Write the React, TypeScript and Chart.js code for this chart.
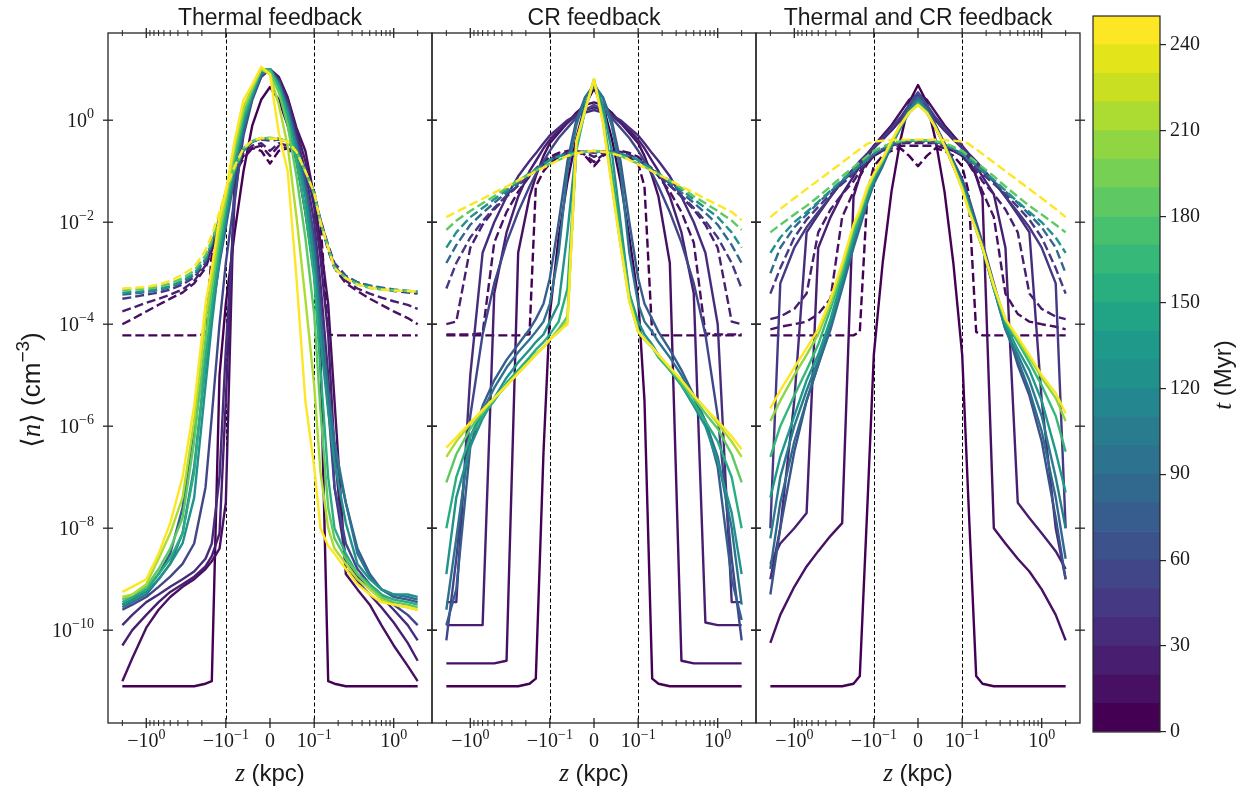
import React, { useEffect, useRef } from 'react';
import { Chart, registerables, LinearScale } from 'chart.js';

Chart.register(...registerables);

// ---------------- data (log10 of <n> in cm^-3) ----------------
const Z_KPC = [-2, -1.5, -1, -0.7, -0.5, -0.35, -0.25, -0.18, -0.15, -0.12, -0.1, -0.08, -0.06, -0.04, -0.02, 0, 0.02, 0.04, 0.06, 0.08, 0.1, 0.12, 0.15, 0.18, 0.25, 0.35, 0.5, 0.7, 1, 1.5, 2];

const PANEL_TITLES = ['Thermal feedback', 'CR feedback', 'Thermal and CR feedback'];

// Thermal feedback
const THERMAL_SOLID_T = [0, 10, 20, 30, 50, 70, 90, 120, 150, 180, 210, 240];
const THERMAL_SOLID_LOGN = [
  [-11.1, -11.1, -11.1, -11.1, -11.1, -11.1, -11.1, -11.05, -11.0, -5.0, -3.6, -2.2, -1.0, -0.1, 0.4, 0.65, 0.4, -0.1, -0.8, -1.8, -3.0, -4.6, -11.0, -11.05, -11.1, -11.1, -11.1, -11.1, -11.1, -11.1, -11.1],
  [-11.0, -10.55, -9.95, -9.6, -9.35, -9.15, -9.0, -8.8, -8.65, -8.4, -7.5, -1.0, 0.15, 0.6, 0.9, 1.0, 0.85, 0.45, -0.15, -0.6, -1.5, -2.4, -3.6, -5.5, -8.9, -9.2, -9.5, -9.9, -10.3, -10.7, -11.0],
  [-10.3, -10.0, -9.7, -9.45, -9.25, -9.1, -8.95, -8.75, -8.55, -8.1, -5.5, -1.3, 0.0, 0.55, 0.9, 1.0, 0.8, 0.4, -0.2, -0.8, -1.7, -2.7, -4.2, -6.5, -8.8, -9.05, -9.3, -9.55, -9.85, -10.25, -10.6],
  [-9.9, -9.7, -9.45, -9.3, -9.15, -9.0, -8.85, -8.6, -8.3, -7.0, -4.5, -1.6, -0.2, 0.45, 0.85, 1.0, 0.8, 0.35, -0.3, -1.0, -2.0, -3.2, -5.0, -7.2, -8.6, -8.95, -9.15, -9.35, -9.6, -9.9, -10.2],
  [-9.6, -9.5, -9.35, -9.15, -8.95, -8.7, -8.3, -7.2, -5.8, -4.0, -2.8, -1.5, -0.3, 0.4, 0.85, 1.0, 0.75, 0.3, -0.4, -1.2, -2.3, -3.6, -5.6, -7.2, -8.3, -8.8, -9.1, -9.3, -9.5, -9.7, -9.9],
  [-9.5, -9.4, -9.2, -8.9, -8.5, -7.6, -6.0, -4.6, -3.8, -2.8, -2.1, -1.1, -0.2, 0.45, 0.9, 1.0, 0.75, 0.25, -0.45, -1.3, -2.5, -3.9, -5.6, -6.5, -7.5, -8.4, -8.9, -9.2, -9.35, -9.4, -9.45],
  [-9.55, -9.45, -9.3, -9.0, -8.7, -8.1, -6.8, -4.8, -3.8, -2.7, -2.0, -1.0, -0.15, 0.45, 0.9, 1.0, 0.7, 0.2, -0.5, -1.4, -2.6, -3.9, -5.3, -6.3, -7.5, -8.5, -8.95, -9.2, -9.3, -9.35, -9.4],
  [-9.5, -9.4, -9.25, -9.0, -8.7, -8.3, -7.4, -5.2, -4.0, -2.7, -1.9, -0.9, -0.05, 0.5, 0.95, 1.0, 0.7, 0.15, -0.6, -1.5, -2.8, -4.3, -5.7, -6.7, -7.9, -8.7, -9.0, -9.2, -9.3, -9.3, -9.35],
  [-9.45, -9.35, -9.2, -8.9, -8.6, -8.1, -6.9, -4.7, -3.6, -2.5, -1.75, -0.8, 0.05, 0.55, 1.0, 1.0, 0.65, 0.05, -0.8, -1.8, -3.1, -4.9, -7.0, -8.0, -8.5, -8.9, -9.1, -9.3, -9.4, -9.45, -9.5],
  [-9.4, -9.3, -9.15, -8.8, -8.4, -7.8, -6.3, -4.3, -3.3, -2.3, -1.6, -0.65, 0.15, 0.6, 1.0, 0.95, 0.55, -0.1, -1.1, -2.3, -3.8, -5.7, -7.6, -8.2, -8.6, -8.9, -9.15, -9.35, -9.45, -9.5, -9.55],
  [-9.35, -9.3, -9.1, -8.6, -8.1, -7.4, -5.9, -3.9, -3.1, -2.1, -1.5, -0.5, 0.25, 0.65, 1.0, 0.9, 0.3, -0.5, -1.9, -3.5, -5.2, -6.9, -8.0, -8.4, -8.7, -9.0, -9.2, -9.4, -9.5, -9.55, -9.6],
  [-9.25, -9.15, -9.0, -8.5, -7.9, -7.0, -5.6, -3.6, -2.9, -1.9, -1.4, -0.4, 0.4, 0.7, 1.05, 0.9, -0.25, -1.0, -3.1, -5.5, -6.8, -8.0, -8.35, -8.5, -8.8, -9.1, -9.3, -9.45, -9.5, -9.55, -9.6],
];
const THERMAL_DASHED_T = [0, 10, 20, 40, 80, 130, 180, 240];
const THERMAL_DASHED_LOGN = [
  [-4.22, -4.22, -4.22, -4.22, -4.22, -4.22, -4.22, -4.2, -2.6, -1.9, -1.4, -1.0, -0.7, -0.55, -0.6, -0.85, -0.6, -0.55, -0.7, -1.0, -1.4, -2.0, -4.2, -4.22, -4.22, -4.22, -4.22, -4.22, -4.22, -4.22, -4.22],
  [-4.0, -3.9, -3.75, -3.62, -3.5, -3.38, -3.2, -2.9, -2.55, -2.0, -1.5, -1.05, -0.75, -0.55, -0.5, -0.7, -0.5, -0.55, -0.75, -1.05, -1.5, -2.0, -2.55, -2.9, -3.2, -3.35, -3.5, -3.62, -3.75, -3.88, -4.0],
  [-3.75, -3.68, -3.58, -3.5, -3.42, -3.32, -3.15, -2.85, -2.5, -1.95, -1.5, -1.0, -0.65, -0.5, -0.45, -0.6, -0.45, -0.5, -0.65, -1.0, -1.5, -1.95, -2.5, -2.85, -3.15, -3.3, -3.4, -3.48, -3.55, -3.62, -3.7],
  [-3.5, -3.47, -3.42, -3.38, -3.32, -3.22, -3.08, -2.8, -2.45, -1.9, -1.45, -0.95, -0.6, -0.42, -0.38, -0.4, -0.38, -0.42, -0.6, -1.0, -1.45, -1.95, -2.45, -2.8, -3.05, -3.18, -3.25, -3.3, -3.35, -3.38, -3.4],
  [-3.42, -3.4, -3.37, -3.33, -3.27, -3.18, -3.03, -2.75, -2.42, -1.95, -1.45, -0.98, -0.58, -0.42, -0.36, -0.36, -0.37, -0.42, -0.6, -1.0, -1.45, -2.0, -2.5, -2.88, -3.08, -3.18, -3.24, -3.28, -3.32, -3.35, -3.37],
  [-3.38, -3.37, -3.35, -3.31, -3.25, -3.15, -3.0, -2.72, -2.4, -1.95, -1.45, -0.98, -0.58, -0.42, -0.36, -0.35, -0.36, -0.42, -0.6, -1.0, -1.42, -2.0, -2.5, -2.88, -3.08, -3.2, -3.27, -3.31, -3.33, -3.35, -3.36],
  [-3.33, -3.32, -3.3, -3.27, -3.2, -3.1, -2.95, -2.65, -2.35, -1.9, -1.42, -0.95, -0.55, -0.4, -0.35, -0.35, -0.36, -0.42, -0.62, -1.0, -1.45, -2.0, -2.5, -2.9, -3.1, -3.22, -3.29, -3.32, -3.34, -3.35, -3.36],
  [-3.3, -3.29, -3.27, -3.22, -3.15, -3.03, -2.88, -2.55, -2.25, -1.8, -1.37, -0.9, -0.55, -0.4, -0.35, -0.36, -0.37, -0.42, -0.62, -1.0, -1.42, -2.0, -2.5, -2.9, -3.1, -3.22, -3.28, -3.32, -3.34, -3.35, -3.36],
];

// CR feedback
const CR_SOLID_T = [0, 10, 20, 30, 50, 70, 90, 120, 150, 180, 210, 240];
const CR_SOLID_LOGN = [
  [-11.1, -11.1, -11.1, -11.1, -11.1, -11.1, -11.1, -11.05, -10.95, -6.5, -3.8, -2.3, -1.2, -0.35, 0.3, 0.62, 0.3, -0.35, -1.2, -2.3, -3.5, -5.5, -10.95, -11.05, -11.1, -11.1, -11.1, -11.1, -11.1, -11.1, -11.1],
  [-10.65, -10.65, -10.65, -10.65, -10.65, -10.6, -2.6, -1.5, -1.1, -0.7, -0.45, -0.25, -0.05, 0.15, 0.3, 0.35, 0.3, 0.15, -0.05, -0.25, -0.45, -0.7, -1.1, -1.5, -2.8, -10.6, -10.65, -10.65, -10.65, -10.65, -10.65],
  [-9.9, -9.9, -9.9, -9.9, -3.4, -2.2, -1.5, -1.0, -0.8, -0.55, -0.38, -0.2, -0.05, 0.1, 0.2, 0.25, 0.2, 0.1, -0.05, -0.2, -0.38, -0.55, -0.8, -1.0, -1.5, -2.2, -3.4, -9.85, -9.9, -9.9, -9.9],
  [-9.45, -9.45, -5.0, -2.6, -2.0, -1.5, -1.1, -0.8, -0.65, -0.45, -0.3, -0.15, 0.0, 0.1, 0.15, 0.2, 0.15, 0.1, 0.0, -0.15, -0.3, -0.45, -0.65, -0.8, -1.1, -1.5, -2.0, -2.6, -4.0, -9.45, -9.45],
  [-10.2, -8.6, -5.8, -4.2, -3.2, -2.4, -1.8, -1.3, -1.05, -0.8, -0.6, -0.35, -0.15, 0.05, 0.2, 0.3, 0.2, 0.05, -0.15, -0.35, -0.6, -0.8, -1.05, -1.3, -1.8, -2.4, -3.2, -4.2, -5.8, -8.6, -10.2],
  [-9.9, -9.2, -6.4, -5.6, -5.1, -4.7, -4.4, -4.1, -3.9, -3.6, -3.1, -2.0, -0.8, 0.0, 0.45, 0.65, 0.45, 0.0, -0.8, -2.0, -3.1, -3.6, -3.9, -4.15, -4.5, -4.9, -5.4, -5.9, -6.8, -9.0, -9.8],
  [-9.6, -8.2, -6.2, -5.7, -5.25, -4.85, -4.55, -4.3, -4.15, -3.95, -3.6, -2.6, -1.0, -0.1, 0.45, 0.7, 0.45, -0.1, -1.0, -2.6, -3.6, -3.95, -4.15, -4.35, -4.65, -5.0, -5.45, -5.9, -6.6, -8.0, -9.5],
  [-8.9, -7.4, -6.4, -5.85, -5.45, -5.05, -4.75, -4.5, -4.35, -4.2, -3.95, -3.6, -2.2, -0.5, 0.3, 0.75, 0.3, -0.6, -2.0, -3.4, -3.95, -4.2, -4.4, -4.6, -4.9, -5.2, -5.6, -6.0, -6.7, -7.7, -8.9],
  [-8.0, -7.0, -6.2, -5.8, -5.5, -5.15, -4.9, -4.65, -4.5, -4.35, -4.2, -3.95, -3.3, -0.6, 0.2, 0.78, 0.1, -1.0, -2.2, -3.4, -4.1, -4.3, -4.45, -4.65, -4.9, -5.2, -5.55, -5.9, -6.3, -7.0, -8.0],
  [-7.1, -6.55, -6.05, -5.72, -5.47, -5.2, -4.95, -4.72, -4.58, -4.45, -4.3, -4.1, -3.85, -0.5, 0.2, 0.8, 0.05, -1.2, -2.4, -3.5, -4.15, -4.3, -4.45, -4.62, -4.88, -5.15, -5.45, -5.75, -6.05, -6.55, -7.1],
  [-6.6, -6.3, -5.95, -5.7, -5.45, -5.2, -4.96, -4.73, -4.6, -4.45, -4.3, -4.15, -3.95, -0.45, 0.2, 0.8, -0.02, -1.25, -2.45, -3.55, -4.15, -4.3, -4.45, -4.6, -4.85, -5.1, -5.4, -5.65, -5.95, -6.3, -6.6],
  [-6.42, -6.22, -5.93, -5.68, -5.45, -5.2, -4.96, -4.73, -4.6, -4.45, -4.3, -4.14, -4.0, -0.4, 0.2, 0.8, -0.04, -1.27, -2.45, -3.55, -4.15, -4.3, -4.45, -4.6, -4.85, -5.1, -5.4, -5.65, -5.9, -6.2, -6.45],
];
const CR_DASHED_T = [0, 10, 20, 40, 80, 120, 180, 240];
const CR_DASHED_LOGN = [
  [-4.22, -4.22, -4.22, -4.22, -4.22, -4.22, -4.22, -4.2, -1.3, -1.0, -0.85, -0.72, -0.62, -0.6, -0.7, -0.9, -0.7, -0.6, -0.62, -0.72, -0.85, -1.3, -4.2, -4.22, -4.22, -4.22, -4.22, -4.22, -4.22, -4.22, -4.22],
  [-4.2, -4.2, -4.2, -4.18, -2.4, -1.8, -1.4, -1.1, -0.95, -0.82, -0.72, -0.64, -0.6, -0.6, -0.68, -0.82, -0.68, -0.6, -0.6, -0.64, -0.72, -0.82, -0.95, -1.1, -1.4, -1.8, -2.4, -4.18, -4.2, -4.2, -4.2],
  [-4.0, -3.95, -2.5, -2.05, -1.75, -1.5, -1.28, -1.08, -0.97, -0.85, -0.76, -0.68, -0.63, -0.61, -0.63, -0.72, -0.63, -0.61, -0.63, -0.68, -0.76, -0.85, -0.97, -1.08, -1.28, -1.5, -1.75, -2.05, -2.5, -3.95, -4.0],
  [-3.3, -2.8, -2.3, -1.98, -1.72, -1.48, -1.28, -1.08, -0.98, -0.87, -0.78, -0.7, -0.65, -0.62, -0.62, -0.64, -0.62, -0.62, -0.65, -0.7, -0.78, -0.87, -0.98, -1.08, -1.28, -1.48, -1.72, -1.98, -2.3, -2.8, -3.3],
  [-2.8, -2.45, -2.05, -1.82, -1.62, -1.42, -1.24, -1.06, -0.97, -0.87, -0.78, -0.71, -0.66, -0.63, -0.62, -0.62, -0.62, -0.63, -0.66, -0.71, -0.78, -0.87, -0.97, -1.06, -1.24, -1.42, -1.62, -1.82, -2.05, -2.45, -2.8],
  [-2.5, -2.2, -1.9, -1.72, -1.55, -1.37, -1.2, -1.04, -0.96, -0.86, -0.78, -0.71, -0.66, -0.63, -0.62, -0.62, -0.62, -0.63, -0.66, -0.71, -0.78, -0.86, -0.96, -1.04, -1.2, -1.37, -1.55, -1.72, -1.9, -2.2, -2.5],
  [-2.15, -1.97, -1.78, -1.63, -1.49, -1.33, -1.18, -1.06, -0.99, -0.91, -0.85, -0.78, -0.7, -0.65, -0.62, -0.6, -0.62, -0.65, -0.7, -0.78, -0.85, -0.91, -0.99, -1.06, -1.18, -1.33, -1.49, -1.63, -1.78, -1.97, -2.15],
  [-1.9, -1.8, -1.66, -1.54, -1.42, -1.3, -1.18, -1.07, -1.0, -0.93, -0.87, -0.78, -0.7, -0.65, -0.62, -0.6, -0.62, -0.65, -0.7, -0.78, -0.87, -0.93, -1.0, -1.07, -1.18, -1.3, -1.42, -1.54, -1.66, -1.8, -1.96],
];

// Thermal and CR feedback
const BOTH_SOLID_T = [0, 10, 20, 30, 40, 60, 80, 100, 130, 160, 200, 240];
const BOTH_SOLID_LOGN = [
  [-11.1, -11.1, -11.1, -11.1, -11.1, -11.1, -11.1, -11.05, -10.9, -7.5, -4.6, -2.8, -1.4, -0.4, 0.35, 0.69, 0.35, -0.4, -1.4, -2.8, -4.6, -7.5, -10.9, -11.05, -11.1, -11.1, -11.1, -11.1, -11.1, -11.1, -11.1],
  [-10.25, -9.7, -9.15, -8.75, -8.45, -8.15, -7.9, -1.5, -1.1, -0.75, -0.5, -0.3, -0.1, 0.15, 0.4, 0.52, 0.4, 0.15, -0.1, -0.3, -0.5, -0.75, -1.1, -1.5, -8.0, -8.3, -8.6, -8.85, -9.2, -9.7, -10.2],
  [-8.7, -8.3, -8.0, -7.7, -2.5, -1.9, -1.45, -1.1, -0.9, -0.7, -0.55, -0.38, -0.2, 0.0, 0.25, 0.4, 0.25, 0.0, -0.2, -0.38, -0.55, -0.7, -0.9, -1.1, -1.45, -2.5, -7.5, -7.8, -8.1, -8.45, -8.8],
  [-9.0, -8.0, -5.5, -2.2, -1.85, -1.5, -1.2, -0.95, -0.8, -0.65, -0.5, -0.35, -0.2, 0.0, 0.25, 0.4, 0.25, 0.0, -0.2, -0.35, -0.5, -0.65, -0.8, -0.95, -1.2, -1.5, -1.85, -2.2, -5.5, -8.0, -9.0],
  [-8.0, -3.2, -2.5, -2.1, -1.8, -1.5, -1.2, -1.0, -0.85, -0.7, -0.55, -0.35, -0.15, 0.05, 0.3, 0.5, 0.3, 0.05, -0.15, -0.35, -0.55, -0.7, -0.85, -1.0, -1.2, -1.5, -1.8, -2.1, -2.5, -3.2, -8.0],
  [-9.3, -8.0, -6.5, -5.5, -4.8, -4.0, -3.2, -2.4, -2.0, -1.5, -1.15, -0.8, -0.45, -0.1, 0.3, 0.55, 0.3, -0.1, -0.45, -0.8, -1.15, -1.5, -2.0, -2.4, -3.2, -4.0, -4.8, -5.4, -6.3, -7.8, -9.0],
  [-8.8, -7.5, -6.3, -5.5, -4.8, -4.1, -3.3, -2.5, -2.1, -1.6, -1.25, -0.9, -0.5, -0.15, 0.2, 0.45, 0.2, -0.15, -0.5, -0.9, -1.25, -1.6, -2.1, -2.5, -3.3, -4.1, -4.7, -5.3, -6.1, -7.4, -8.6],
  [-8.2, -7.0, -6.0, -5.3, -4.7, -4.0, -3.2, -2.4, -2.0, -1.55, -1.2, -0.85, -0.5, -0.15, 0.2, 0.4, 0.2, -0.15, -0.5, -0.85, -1.25, -1.6, -2.1, -2.5, -3.3, -4.1, -4.6, -5.1, -5.8, -7.0, -8.0],
  [-7.4, -6.6, -5.8, -5.1, -4.6, -3.9, -3.1, -2.3, -1.95, -1.5, -1.15, -0.8, -0.45, -0.15, 0.15, 0.35, 0.15, -0.15, -0.5, -0.85, -1.3, -1.65, -2.15, -2.5, -3.3, -4.0, -4.5, -4.9, -5.5, -6.5, -7.3],
  [-6.6, -6.0, -5.4, -4.9, -4.4, -3.7, -3.0, -2.2, -1.85, -1.4, -1.1, -0.8, -0.45, -0.12, 0.15, 0.33, 0.15, -0.15, -0.5, -0.9, -1.3, -1.7, -2.15, -2.5, -3.3, -3.95, -4.35, -4.75, -5.2, -5.8, -6.5],
  [-5.9, -5.5, -5.0, -4.6, -4.2, -3.6, -2.9, -2.1, -1.8, -1.35, -1.08, -0.78, -0.42, -0.1, 0.15, 0.3, 0.15, -0.15, -0.5, -0.9, -1.35, -1.75, -2.15, -2.5, -3.25, -3.9, -4.3, -4.65, -5.05, -5.45, -5.9],
  [-5.65, -5.3, -4.85, -4.47, -4.1, -3.5, -2.8, -2.05, -1.75, -1.3, -1.05, -0.75, -0.4, -0.1, 0.15, 0.3, 0.15, -0.15, -0.5, -0.9, -1.35, -1.75, -2.15, -2.5, -3.25, -3.9, -4.25, -4.6, -5.0, -5.35, -5.75],
];
const BOTH_DASHED_T = [0, 10, 20, 40, 80, 120, 180, 240];
const BOTH_DASHED_LOGN = [
  [-4.22, -4.22, -4.22, -4.22, -4.22, -4.22, -4.22, -4.22, -4.15, -1.4, -0.9, -0.7, -0.6, -0.55, -0.7, -0.9, -0.7, -0.55, -0.6, -0.7, -0.9, -1.4, -4.15, -4.22, -4.22, -4.22, -4.22, -4.22, -4.22, -4.22, -4.22],
  [-4.1, -4.05, -4.0, -3.95, -3.8, -3.5, -1.9, -1.4, -1.1, -0.85, -0.7, -0.6, -0.55, -0.5, -0.5, -0.5, -0.5, -0.5, -0.55, -0.6, -0.7, -0.85, -1.1, -1.4, -1.9, -3.4, -3.8, -3.95, -4.0, -4.05, -4.1],
  [-3.9, -3.85, -3.7, -3.4, -2.2, -1.75, -1.45, -1.2, -1.0, -0.85, -0.7, -0.6, -0.5, -0.45, -0.45, -0.45, -0.45, -0.45, -0.5, -0.6, -0.7, -0.85, -1.0, -1.2, -1.45, -1.75, -2.2, -3.4, -3.7, -3.85, -3.9],
  [-3.4, -2.9, -2.3, -1.95, -1.7, -1.45, -1.25, -1.05, -0.95, -0.8, -0.68, -0.58, -0.5, -0.45, -0.42, -0.42, -0.42, -0.45, -0.5, -0.58, -0.68, -0.8, -0.95, -1.05, -1.25, -1.45, -1.7, -1.95, -2.3, -2.9, -3.4],
  [-3.0, -2.5, -2.1, -1.85, -1.62, -1.4, -1.2, -1.0, -0.9, -0.78, -0.66, -0.56, -0.48, -0.43, -0.4, -0.4, -0.4, -0.43, -0.48, -0.56, -0.66, -0.78, -0.9, -1.0, -1.2, -1.4, -1.62, -1.85, -2.1, -2.5, -3.0],
  [-2.6, -2.3, -2.0, -1.8, -1.6, -1.38, -1.17, -0.98, -0.88, -0.76, -0.65, -0.55, -0.47, -0.42, -0.4, -0.4, -0.4, -0.42, -0.47, -0.55, -0.65, -0.76, -0.88, -0.98, -1.17, -1.38, -1.6, -1.8, -2.0, -2.3, -2.6],
  [-2.2, -2.05, -1.85, -1.68, -1.5, -1.3, -1.1, -0.92, -0.82, -0.7, -0.6, -0.52, -0.45, -0.41, -0.39, -0.39, -0.39, -0.41, -0.45, -0.52, -0.6, -0.7, -0.82, -0.92, -1.1, -1.3, -1.5, -1.68, -1.85, -2.05, -2.2],
  [-1.9, -1.74, -1.53, -1.35, -1.18, -1.0, -0.83, -0.66, -0.57, -0.46, -0.42, -0.4, -0.39, -0.38, -0.38, -0.38, -0.38, -0.38, -0.39, -0.4, -0.42, -0.46, -0.57, -0.66, -0.83, -1.0, -1.18, -1.35, -1.53, -1.74, -1.9],
];

// axes
const Y_TICK_EXP = [-10, -8, -6, -4, -2, 0];
const Y_TICK_MANTISSA = ['10', '10', '10', '10', '10', '10'];
const Y_TICK_POWER = ['−10', '−8', '−6', '−4', '−2', '0'];
const X_MAJOR_TICKS = [-1, -0.1, 0, 0.1, 1];
const X_TICK_MANTISSA = ['−10', '−10', '0', '10', '10'];
const X_TICK_POWER = ['0', '−1', '', '−1', '0'];
const X_MINOR_TICKS = [-3, -2, -0.9, -0.8, -0.7, -0.6, -0.5, -0.4, -0.3, -0.2, 0.2, 0.3, 0.4, 0.5, 0.6, 0.7, 0.8, 0.9, 2, 3];
const GUIDE_Z = [-0.1, 0.1];
const CBAR_BOUNDS = [0, 10, 20, 30, 40, 50, 60, 70, 80, 90, 100, 110, 120, 130, 140, 150, 160, 170, 180, 190, 200, 210, 220, 230, 240, 250];
const CBAR_TICKS = [0, 30, 60, 90, 120, 150, 180, 210, 240];

// ---------------- styling ----------------
const SERIF = "'Liberation Serif', 'DejaVu Serif', serif";
const SANS = "'Liberation Sans', 'DejaVu Sans', sans-serif";
const TEXT_COLOR = '#1a1a1a';
const AXIS_COLOR = '#262626';
const X_LIM = 3.03;
const Y_MIN = Math.pow(10, -11.82);
const Y_MAX = Math.pow(10, 1.71);
const PLOT_TOP = 33;
const CANVAS_H = 790;
const XAXIS_H = 67;
const CANVAS_LEFT = [0, 424, 748];
const CANVAS_W = [440, 340, 340];

const VIRIDIS = ['#440154', '#471365', '#482475', '#463480', '#414487', '#3b528b', '#355f8d', '#2f6c8e', '#2a788e', '#25848e', '#21918c', '#1e9c89', '#22a884', '#2fb47c', '#44bf70', '#5ec962', '#7ad151', '#9bd93c', '#bddf26', '#dfe318', '#fde725'];
function hexRgb(h: string) {
  return [parseInt(h.slice(1, 3), 16), parseInt(h.slice(3, 5), 16), parseInt(h.slice(5, 7), 16)];
}
function viridis(f: number) {
  const x = Math.min(1, Math.max(0, f)) * (VIRIDIS.length - 1);
  const i = Math.min(VIRIDIS.length - 2, Math.floor(x));
  const t = x - i;
  const a = hexRgb(VIRIDIS[i]);
  const b = hexRgb(VIRIDIS[i + 1]);
  const c = a.map((v, k) => Math.round(v + (b[k] - v) * t));
  return `rgb(${c[0]},${c[1]},${c[2]})`;
}
const NBINS = CBAR_BOUNDS.length - 1;
function timeColor(t: number) {
  let bin = 0;
  for (let i = 0; i < NBINS; i++) if (t >= CBAR_BOUNDS[i]) bin = i;
  return viridis(bin / (NBINS - 1));
}

// ---------------- symmetric-log scale ----------------
const LINTHRESH = 0.1;
const LINSCALE = 0.5556;
function symTf(v: number) {
  const a = Math.abs(v);
  if (a <= LINTHRESH) return (v / LINTHRESH) * LINSCALE;
  return Math.sign(v) * (LINSCALE + Math.log10(a / LINTHRESH));
}
function symInv(t: number) {
  const a = Math.abs(t);
  if (a <= LINSCALE) return (t / LINSCALE) * LINTHRESH;
  return Math.sign(t) * LINTHRESH * Math.pow(10, a - LINSCALE);
}
class SymLogScale extends (LinearScale as any) {
  static id = 'symlog';
  static defaults = {};
  buildTicks() {
    return X_MAJOR_TICKS.map((v) => ({ value: v }));
  }
  configure() {
    super.configure();
    (this as any)._tStart = symTf((this as any).min);
    (this as any)._tRange = symTf((this as any).max) - (this as any)._tStart;
  }
  getPixelForValue(value: any) {
    if (value === null || value === undefined || Number.isNaN(value)) return NaN;
    const self = this as any;
    return self.getPixelForDecimal((symTf(value) - self._tStart) / self._tRange);
  }
  getValueForPixel(pixel: number) {
    const self = this as any;
    return symInv(self._tStart + self.getDecimalForPixel(pixel) * self._tRange);
  }
}
Chart.register(SymLogScale as any);

// ---------------- text helpers ----------------
type Run = { text: string; font: string; dy?: number };
function drawRuns(ctx: CanvasRenderingContext2D, runs: Run[], x: number, y: number, align: 'center' | 'right' = 'center') {
  ctx.textAlign = 'left';
  ctx.textBaseline = 'alphabetic';
  const widths = runs.map((r) => {
    ctx.font = r.font;
    return ctx.measureText(r.text).width;
  });
  const total = widths.reduce((s, w) => s + w, 0);
  let cx = align === 'center' ? x - total / 2 : x - total;
  runs.forEach((r, i) => {
    ctx.font = r.font;
    ctx.fillText(r.text, cx, y + (r.dy || 0));
    cx += widths[i];
  });
}
function powRuns(mant: string, pow: string): Run[] {
  const runs: Run[] = [{ text: mant, font: `20px ${SERIF}` }];
  if (pow) runs.push({ text: pow, font: `14px ${SERIF}`, dy: -8.5 });
  return runs;
}

const panelDeco = {
  id: 'panelDeco',
  beforeDatasetsDraw(chart: any) {
    const { ctx, chartArea: a } = chart;
    const xs = chart.scales.x;
    ctx.save();
    ctx.strokeStyle = '#000';
    ctx.lineWidth = 1;
    ctx.setLineDash([4, 2.5]);
    for (const v of GUIDE_Z) {
      const px = Math.round(xs.getPixelForValue(v)) + 0.5;
      ctx.beginPath();
      ctx.moveTo(px, a.top);
      ctx.lineTo(px, a.bottom);
      ctx.stroke();
    }
    ctx.restore();
  },
  afterDraw(chart: any, _args: any, opts: any) {
    const { ctx, chartArea: a } = chart;
    const xs = chart.scales.x;
    const ys = chart.scales.y;
    const seg = (x1: number, y1: number, x2: number, y2: number) => {
      ctx.beginPath();
      ctx.moveTo(x1, y1);
      ctx.lineTo(x2, y2);
      ctx.stroke();
    };
    ctx.save();
    ctx.setLineDash([]);
    ctx.strokeStyle = AXIS_COLOR;
    ctx.lineWidth = 1.3;
    ctx.strokeRect(a.left, a.top, a.right - a.left, a.bottom - a.top);
    for (const e of Y_TICK_EXP) {
      const y = ys.getPixelForValue(Math.pow(10, e));
      seg(a.left - 5, y, a.left + 5, y);
      seg(a.right - 5, y, a.right + 5, y);
    }
    for (const v of X_MAJOR_TICKS) {
      const x = xs.getPixelForValue(v);
      seg(x, a.top - 5, x, a.top + 5);
      seg(x, a.bottom - 5, x, a.bottom + 5);
    }
    ctx.lineWidth = 1;
    for (const v of X_MINOR_TICKS) {
      const x = xs.getPixelForValue(v);
      if (x < a.left + 1 || x > a.right - 1) continue;
      seg(x, a.top - 3, x, a.top + 3);
      seg(x, a.bottom - 3, x, a.bottom + 3);
    }
    ctx.fillStyle = TEXT_COLOR;
    // tick labels (positions from the chart's scales)
    X_MAJOR_TICKS.forEach((v, i) => {
      drawRuns(ctx, powRuns(X_TICK_MANTISSA[i], X_TICK_POWER[i]), xs.getPixelForValue(v), 747);
    });
    if (opts.yLabel) {
      Y_TICK_EXP.forEach((e, i) => {
        const y = ys.getPixelForValue(Math.pow(10, e));
        drawRuns(ctx, powRuns(Y_TICK_MANTISSA[i], Y_TICK_POWER[i]), a.left - 14, y + 6.5, 'right');
      });
    }
    const cx = (a.left + a.right) / 2;
    drawRuns(ctx, [{ text: opts.title, font: `23px ${SANS}` }], cx, 25);
    drawRuns(ctx, [
      { text: 'z', font: `italic 25px ${SERIF}` },
      { text: ' (kpc)', font: `24px ${SANS}` },
    ], cx, 781);
    if (opts.yLabel) {
      ctx.translate(40, 390);
      ctx.rotate(-Math.PI / 2);
      drawRuns(ctx, [
        { text: '⟨', font: `27px ${SERIF}` },
        { text: 'n', font: `italic 27px ${SERIF}` },
        { text: '⟩', font: `27px ${SERIF}` },
        { text: ' (cm', font: `26px ${SANS}` },
        { text: '−3', font: `19px ${SANS}`, dy: -11 },
        { text: ')', font: `26px ${SANS}` },
      ], 0, 0);
    }
    ctx.restore();
  },
};

const cbarDeco = {
  id: 'cbarDeco',
  afterDraw(chart: any) {
    const { ctx, chartArea: a } = chart;
    ctx.save();
    ctx.strokeStyle = AXIS_COLOR;
    ctx.lineWidth = 1.2;
    ctx.strokeRect(a.left, a.top, a.right - a.left, a.bottom - a.top);
    ctx.fillStyle = TEXT_COLOR;
    ctx.translate(146, 375);
    ctx.rotate(-Math.PI / 2);
    drawRuns(ctx, [
      { text: 't', font: `italic 25px ${SERIF}` },
      { text: ' (Myr)', font: `24px ${SANS}` },
    ], 0, 0);
    ctx.restore();
  },
};

const PANELS = [
  { title: PANEL_TITLES[0], solidT: THERMAL_SOLID_T, solid: THERMAL_SOLID_LOGN, dashedT: THERMAL_DASHED_T, dashed: THERMAL_DASHED_LOGN },
  { title: PANEL_TITLES[1], solidT: CR_SOLID_T, solid: CR_SOLID_LOGN, dashedT: CR_DASHED_T, dashed: CR_DASHED_LOGN },
  { title: PANEL_TITLES[2], solidT: BOTH_SOLID_T, solid: BOTH_SOLID_LOGN, dashedT: BOTH_DASHED_T, dashed: BOTH_DASHED_LOGN },
];

function lineSet(t: number, logn: number[], dashed: boolean) {
  return {
    data: Z_KPC.map((z, i) => ({ x: z, y: Math.pow(10, logn[i]) })),
    borderColor: timeColor(t),
    borderWidth: 2.4,
    borderDash: dashed ? [9, 4] : [],
    borderCapStyle: 'butt',
    borderJoinStyle: 'round',
    pointRadius: 0,
    tension: 0,
    fill: false,
    order: dashed ? -2 * t + 1 : -2 * t,
  };
}

function panelConfig(p: any, idx: number): any {
  const datasets: any[] = [];
  p.solidT.forEach((t: number, k: number) => datasets.push(lineSet(t, p.solid[k], false)));
  p.dashedT.forEach((t: number, k: number) => datasets.push(lineSet(t, p.dashed[k], true)));
  return {
    type: 'line',
    data: { datasets },
    options: {
      responsive: false,
      animation: false,
      events: [],
      layout: { padding: { left: idx === 0 ? 0 : 8, right: 8, top: PLOT_TOP, bottom: 0 } },
      plugins: {
        legend: { display: false },
        tooltip: { enabled: false },
        panelDeco: { title: p.title, yLabel: idx === 0 },
      },
      scales: {
        x: {
          type: 'symlog',
          position: 'bottom',
          min: -X_LIM,
          max: X_LIM,
          grid: { display: false, drawTicks: false },
          border: { display: false },
          ticks: { display: false },
          afterFit: (s: any) => {
            s.height = XAXIS_H;
          },
        },
        y: {
          type: 'logarithmic',
          position: 'left',
          display: idx === 0,
          min: Y_MIN,
          max: Y_MAX,
          bounds: 'data',
          grid: { display: false, drawTicks: false },
          border: { display: false },
          ticks: { display: false },
          afterBuildTicks: (s: any) => {
            s.ticks = Y_TICK_EXP.map((e) => ({ value: Math.pow(10, e) }));
          },
          afterFit: (s: any) => {
            s.width = idx === 0 ? 108 : 0;
          },
        },
      },
    },
    plugins: [panelDeco],
  };
}

function cbarConfig(): any {
  const datasets = CBAR_BOUNDS.slice(0, -1).map((b, i) => ({
    data: [CBAR_BOUNDS[i + 1] - b],
    backgroundColor: viridis(i / (NBINS - 1)),
    borderWidth: 0,
    barPercentage: 1,
    categoryPercentage: 1,
  }));
  return {
    type: 'bar',
    data: { labels: [''], datasets },
    options: {
      responsive: false,
      animation: false,
      events: [],
      layout: { padding: { left: 8, right: 0, top: 16, bottom: 58 } },
      plugins: { legend: { display: false }, tooltip: { enabled: false } },
      scales: {
        x: { display: false, stacked: true },
        y: {
          stacked: true,
          position: 'right',
          min: CBAR_BOUNDS[0],
          max: CBAR_BOUNDS[CBAR_BOUNDS.length - 1],
          grid: { display: true, drawOnChartArea: false, drawTicks: true, tickLength: 6, color: AXIS_COLOR, lineWidth: 1.2 },
          border: { display: false },
          ticks: { padding: 4, color: TEXT_COLOR, font: { family: SERIF, size: 20 } },
          afterBuildTicks: (s: any) => {
            s.ticks = CBAR_TICKS.map((v) => ({ value: v }));
          },
          afterFit: (s: any) => {
            s.width = 91;
          },
        },
      },
    },
    plugins: [cbarDeco],
  };
}

export default function App() {
  const r0 = useRef<HTMLCanvasElement>(null);
  const r1 = useRef<HTMLCanvasElement>(null);
  const r2 = useRef<HTMLCanvasElement>(null);
  const rc = useRef<HTMLCanvasElement>(null);
  useEffect(() => {
    const refs = [r0, r1, r2];
    const charts: Chart[] = PANELS.map((p, i) => new Chart(refs[i].current as HTMLCanvasElement, panelConfig(p, i)));
    charts.push(new Chart(rc.current as HTMLCanvasElement, cbarConfig()));
    return () => charts.forEach((c) => c.destroy());
  }, []);
  const refs = [r0, r1, r2];
  return (
    <div style={{ position: 'fixed', left: 0, top: 0, width: 1251, height: 790, background: '#fff', overflow: 'hidden' }}>
      {refs.map((r, i) => (
        <canvas
          key={i}
          ref={r}
          width={CANVAS_W[i]}
          height={CANVAS_H}
          style={{ position: 'absolute', left: CANVAS_LEFT[i], top: 0, width: CANVAS_W[i], height: CANVAS_H }}
        />
      ))}
      <canvas ref={rc} width={166} height={CANVAS_H} style={{ position: 'absolute', left: 1085, top: 0, width: 166, height: CANVAS_H }} />
    </div>
  );
}
